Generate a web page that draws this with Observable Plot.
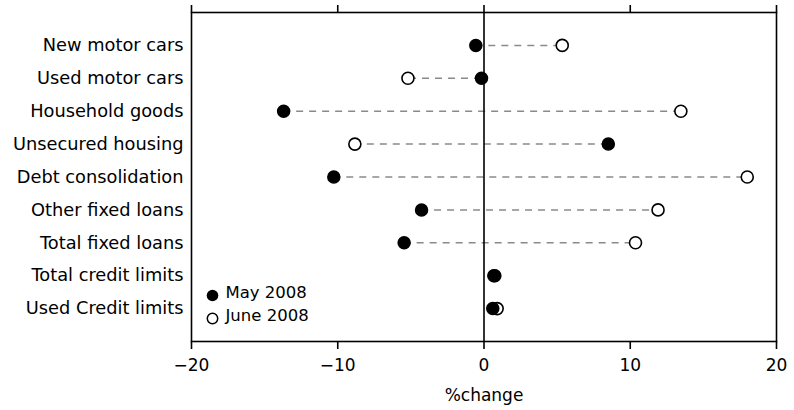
<!DOCTYPE html>
<html>
<head>
<meta charset="utf-8">
<script src="https://cdn.jsdelivr.net/npm/d3@7"></script>
<script src="https://cdn.jsdelivr.net/npm/@observablehq/plot@0.6"></script>
<style>
  html, body { margin: 0; padding: 0; background: #fff; }
</style>
</head>
<body>
<div id="chart"></div>
<script>
const categories = [
  "New motor cars",
  "Used motor cars",
  "Household goods",
  "Unsecured housing",
  "Debt consolidation",
  "Other fixed loans",
  "Total fixed loans",
  "Total credit limits",
  "Used Credit limits"
];
const may2008 = [-0.56, -0.17, -13.7, 8.5, -10.27, -4.27, -5.46, 0.67, 0.6];
const june2008 = [5.35, -5.2, 13.46, -8.83, 18.0, 11.9, 10.36, 0.74, 0.9];
const xTicks = [-20, -10, 0, 10, 20];
const seriesNames = ["May 2008", "June 2008"];
const xLabel = "%change";

const rows = categories.map((c, i) => ({cat: c, may: may2008[i], june: june2008[i]}));

const chart = Plot.plot({
  width: 794,
  height: 410,
  marginLeft: 191,
  marginRight: 18,
  marginTop: 12,
  marginBottom: 69,
  style: {fontFamily: "DejaVu Sans", fontSize: "17px", color: "black", background: "white"},
  x: {domain: [-20, 20], axis: null},
  y: {domain: categories, padding: 1, round: false, axis: null},
  marks: [
    Plot.ruleY(rows, {y: "cat", x1: "may", x2: "june", stroke: "#8a8a8a", strokeWidth: 1.5, strokeDasharray: "7,6"}),
    Plot.ruleX([0], {stroke: "black", strokeWidth: 1.6}),
    Plot.frame({stroke: "black", strokeWidth: 1.6}),
    Plot.axisX({anchor: "bottom", ticks: xTicks, tickSize: 8, tickPadding: 9, strokeWidth: 1.6, fontSize: 17,
      label: xLabel, labelAnchor: "center", labelArrow: "none", labelOffset: 59}),
    Plot.axisX({anchor: "top", ticks: xTicks, tickSize: 8, strokeWidth: 1.6, tickFormat: () => "", label: null}),
    Plot.axisY({tickSize: 0, tickPadding: 8, fontSize: 17.8, label: null}),
    Plot.dot(rows, {x: "june", y: "cat", r: 6, fill: "white", stroke: "black", strokeWidth: 1.6}),
    Plot.dot(rows, {x: "may", y: "cat", r: 6, fill: "black", stroke: "black"}),
    Plot.dot([seriesNames[0]], {frameAnchor: "bottom-left", dx: 21, dy: -46, r: 5.8, fill: "black"}),
    Plot.dot([seriesNames[1]], {frameAnchor: "bottom-left", dx: 21, dy: -23, r: 5.2, fill: "white", stroke: "black", strokeWidth: 1.5}),
    Plot.text([seriesNames[0]], {text: d => d, frameAnchor: "bottom-left", dx: 34, dy: -44, textAnchor: "start", fontSize: 16.5}),
    Plot.text([seriesNames[1]], {text: d => d, frameAnchor: "bottom-left", dx: 34, dy: -21, textAnchor: "start", fontSize: 16.5})
  ]
});
document.getElementById("chart").appendChild(chart);
</script>
</body>
</html>
